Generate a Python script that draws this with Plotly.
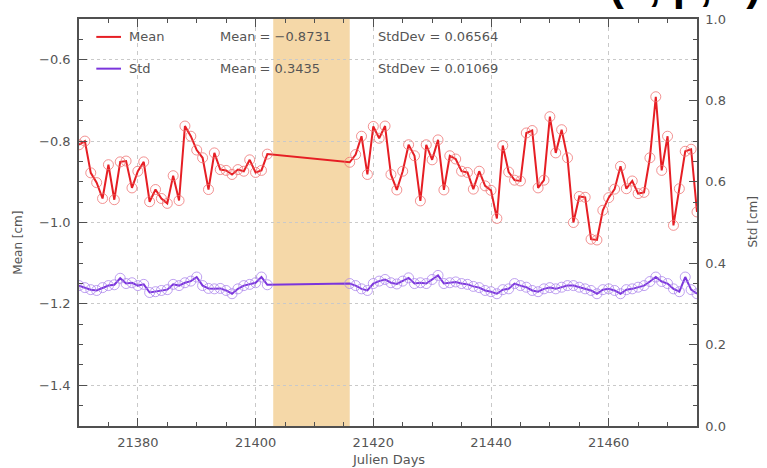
import plotly.graph_objects as go

# Julian days with observations (no data between 21403 and 21415)
days_a = list(range(21370, 21403))
days_b = list(range(21416, 21476))
days = days_a + days_b

mean_cm = [
    -0.809, -0.800, -0.878, -0.902, -0.941, -0.858, -0.944, -0.851, -0.849, -0.915,
    -0.874, -0.851, -0.949, -0.919, -0.941, -0.953, -0.885, -0.946, -0.763, -0.788,
    -0.822, -0.841, -0.919, -0.829, -0.870, -0.872, -0.882, -0.870, -0.874, -0.846,
    -0.877, -0.872, -0.832,
    -0.852, -0.833, -0.788, -0.882, -0.764, -0.793, -0.763, -0.882, -0.920, -0.874,
    -0.809, -0.836, -0.947, -0.809, -0.846, -0.797, -0.920, -0.836, -0.844, -0.874,
    -0.877, -0.918, -0.874, -0.910, -0.921, -0.990, -0.811, -0.876, -0.896, -0.898,
    -0.780, -0.774, -0.915, -0.896, -0.740, -0.829, -0.772, -0.841, -1.000, -0.936,
    -0.938, -1.041, -1.043, -0.970, -0.939, -0.918, -0.862, -0.917, -0.898, -0.929,
    -0.926, -0.841, -0.691, -0.872, -0.788, -1.007, -0.917, -0.825, -0.820, -0.974,
]

std_cm = [
    0.345, 0.340, 0.335, 0.333, 0.340, 0.345, 0.347, 0.363, 0.350, 0.352,
    0.345, 0.348, 0.328, 0.330, 0.333, 0.335, 0.348, 0.345, 0.352, 0.356,
    0.366, 0.345, 0.338, 0.337, 0.338, 0.333, 0.325, 0.337, 0.345, 0.348,
    0.352, 0.366, 0.347,
    0.350, 0.345, 0.337, 0.333, 0.350, 0.356, 0.360, 0.352, 0.349, 0.356,
    0.364, 0.350, 0.352, 0.350, 0.360, 0.370, 0.350, 0.352, 0.354, 0.350,
    0.348, 0.343, 0.340, 0.333, 0.330, 0.325, 0.335, 0.337, 0.350, 0.345,
    0.341, 0.333, 0.330, 0.337, 0.340, 0.337, 0.341, 0.345, 0.345, 0.341,
    0.337, 0.333, 0.325, 0.335, 0.337, 0.333, 0.325, 0.335, 0.337, 0.341,
    0.345, 0.355, 0.366, 0.355, 0.350, 0.337, 0.330, 0.366, 0.335, 0.325,
]

gap_span = [21403, 21416]
x_range = [21370, 21475]
mean_range = [-1.5, -0.5]
std_range = [0.0, 1.0]

mean_stats = ("Mean = \u22120.8731", "StdDev = 0.06564")
std_stats = ("Mean = 0.3435", "StdDev = 0.01069")
page_title = "(x, p, z)"

RED = "#e61e24"
RED_MK = "rgba(238,110,110,0.75)"
PURPLE = "#7b35dc"
PURPLE_MK = "rgba(170,130,235,0.75)"
AXIS = "#505050"
TXT = "#555555"
GRID = "#c9c9c9"
FONT = "DejaVu Sans"

fig = go.Figure()

fig.add_trace(go.Scatter(
    x=days, y=mean_cm, mode="lines+markers", name="Mean",
    line=dict(color=RED, width=2),
    marker=dict(symbol="circle-open", size=10, color=RED_MK, line=dict(width=1)),
    yaxis="y", showlegend=False,
))
fig.add_trace(go.Scatter(
    x=days, y=std_cm, mode="lines+markers", name="Std",
    line=dict(color=PURPLE, width=2),
    marker=dict(symbol="circle-open", size=10, color=PURPLE_MK, line=dict(width=1)),
    yaxis="y2", showlegend=False,
))

# shaded period without data
fig.add_shape(type="rect", xref="x", yref="paper", x0=gap_span[0], x1=gap_span[1],
              y0=0, y1=1, fillcolor="#f5d8a8", line=dict(width=0), layer="below")

# legend block: line samples + statistics
rows = [(0.956, RED, "Mean", mean_stats), (0.878, PURPLE, "Std", std_stats)]
for yy, col, name, stats in rows:
    fig.add_shape(type="line", xref="paper", yref="paper", x0=0.028, x1=0.068,
                  y0=yy, y1=yy, line=dict(color=col, width=2))
    fig.add_annotation(xref="paper", yref="paper", x=0.078, y=yy, text=name,
                       showarrow=False, xanchor="left", yanchor="middle",
                       font=dict(family=FONT, size=13, color=TXT))
    fig.add_annotation(xref="paper", yref="paper", x=0.225, y=yy, text=stats[0],
                       showarrow=False, xanchor="left", yanchor="middle",
                       font=dict(family=FONT, size=13, color=TXT))
    fig.add_annotation(xref="paper", yref="paper", x=0.481, y=yy, text=stats[1],
                       showarrow=False, xanchor="left", yanchor="middle",
                       font=dict(family=FONT, size=13, color=TXT))

# axis titles
fig.add_annotation(xref="paper", yref="paper", x=-0.099, y=0.45, text="Mean [cm]",
                   textangle=-90, showarrow=False, xanchor="center", yanchor="middle",
                   font=dict(family=FONT, size=12, color=TXT))
fig.add_annotation(xref="paper", yref="paper", x=1.089, y=0.5, text="Std [cm]",
                   textangle=-90, showarrow=False, xanchor="center", yanchor="middle",
                   font=dict(family=FONT, size=12, color=TXT))
fig.add_annotation(xref="paper", yref="paper", x=0.5, y=-0.083, text="Julien Days",
                   showarrow=False, xanchor="center", yanchor="middle",
                   font=dict(family=FONT, size=13, color=TXT))

common = dict(showline=True, linecolor=AXIS, linewidth=1.5, ticks="inside",
              tickcolor=AXIS, tickwidth=1.2, ticklen=8,
              tickfont=dict(family=FONT, size=13, color=TXT), zeroline=False)

fig.update_layout(
    width=767, height=468,
    margin=dict(l=79, r=70, t=15, b=42),
    paper_bgcolor="white", plot_bgcolor="white",
    # page title running off the top edge: only its lower part shows
    title=dict(text=page_title, xref="container", yref="container",
               x=0.992, xanchor="right", y=1.0, yanchor="bottom",
               font=dict(family="Liberation Sans", size=44, color="black", weight="bold")),
    xaxis=dict(range=x_range, dtick=20, tick0=0, tickformat="d", mirror="ticks",
               showgrid=True, gridcolor=GRID, griddash="4px,4px", gridwidth=1,
               minor=dict(dtick=5, ticks="inside", ticklen=4, tickcolor=AXIS, showgrid=False),
               ticklabelstandoff=4, **common),
    yaxis=dict(range=mean_range, dtick=0.2, tick0=0, tickformat=".1f",
               showgrid=True, gridcolor=GRID, griddash="3px,3px", gridwidth=1,
               minor=dict(dtick=0.05, ticks="inside", ticklen=4, tickcolor=AXIS, showgrid=False),
               ticklabelstandoff=4, **common),
    yaxis2=dict(range=std_range, dtick=0.2, tick0=0, tickformat=".1f", overlaying="y",
                side="right", showgrid=False,
                minor=dict(dtick=0.05, ticks="inside", ticklen=4, tickcolor=AXIS, showgrid=False),
                ticklabelstandoff=4, **common),
)

fig.write_html("out.html")
